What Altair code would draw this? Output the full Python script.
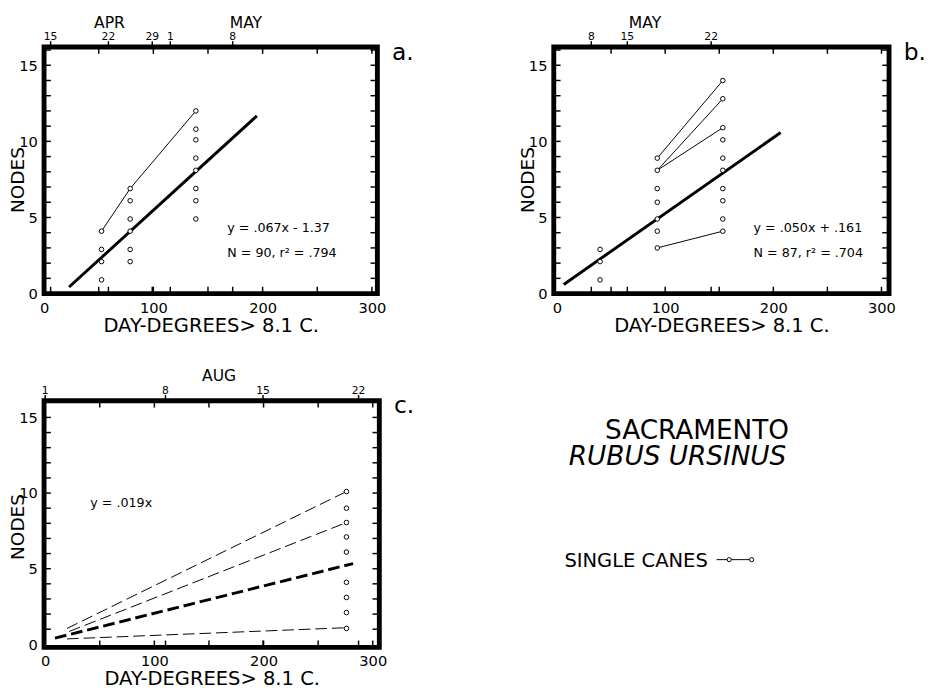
import altair as alt
import pandas as pd

FONT = "DejaVu Sans"

# ---------------- panel a ----------------
a_x = [52.6, 52.6, 52.6, 52.6,
       78.8, 78.8, 78.8, 78.8, 78.8, 78.8,
       138.9, 138.9, 138.9, 138.9, 138.9, 138.9, 138.9, 138.9]
a_y = [4.1, 2.9, 2.1, 0.9,
       6.9, 6.1, 4.9, 4.1, 2.9, 2.1,
       12.0, 10.8, 10.1, 8.9, 8.1, 6.9, 6.1, 4.9]
a_cane_x = [52.6, 78.8, 138.9]
a_cane_y = [4.1, 6.9, 12.0]
a_cane_id = [1, 1, 1]
a_fit_x = [22.9, 194.7]
a_fit_y = [0.43, 11.67]
a_date_pos = [6, 58.9, 99, 115.5, 172.6]
a_date_lab = ["15", "22", "29", "1", "8"]
a_month_pos = [59.8, 184.7]
a_month_lab = ["APR", "MAY"]
a_eq = ["y = .067x - 1.37", "N = 90, r² = .794"]

# ---------------- panel b ----------------
b_x = [39.8, 39.8, 39.8,
       92.7, 92.7, 92.7, 92.7, 92.7, 92.7, 92.7,
       153.3, 153.3, 153.3, 153.3, 153.3, 153.3, 153.3, 153.3, 153.3, 153.3]
b_y = [2.9, 2.1, 0.9,
       8.9, 8.1, 6.9, 6.0, 4.9, 4.1, 3.0,
       14.0, 12.8, 10.9, 10.1, 8.9, 8.1, 6.9, 6.1, 4.9, 4.1]
b_cane_x = [92.7, 153.3, 92.7, 153.3, 92.7, 153.3, 92.7, 153.3]
b_cane_y = [8.9, 14.0, 8.1, 12.8, 8.1, 10.9, 3.0, 4.1]
b_cane_id = [1, 1, 2, 2, 3, 3, 4, 4]
b_fit_x = [6.2, 206.8]
b_fit_y = [0.6, 10.58]
b_date_pos = [31.7, 65, 142.5]
b_date_lab = ["8", "15", "22"]
b_month_pos = [81.3]
b_month_lab = ["MAY"]
b_eq = ["y = .050x + .161", "N = 87, r² = .704"]

# ---------------- panel c ----------------
c_x = [275.9, 275.9, 275.9, 275.9, 275.9, 275.9, 275.9, 275.9, 275.9]
c_y = [10.1, 9.0, 8.05, 7.1, 6.1, 4.1, 3.1, 2.1, 1.05]
c_cane_x = [20.0, 275.9, 22.0, 275.9, 20.0, 275.9]
c_cane_y = [1.05, 10.1, 0.85, 8.05, 0.36, 1.1]
c_cane_id = [1, 1, 2, 2, 3, 3]
c_fit_x = [9.0, 282.0]
c_fit_y = [0.41, 5.34]
c_date_pos = [0, 110.2, 199.5, 287]
c_date_lab = ["1", "8", "15", "22"]
c_month_pos = [159.3]
c_month_lab = ["AUG"]
c_eq = ["y = .019x"]

y_labels = [0, 5, 10, 15]
x_labels = [0, 100, 200, 300]
y_minor = list(range(1, 17))
x_minor = [50, 100, 150, 200, 250, 300]

X_TITLE = "DAY-DEGREES> 8.1 C."
Y_TITLE = "NODES"


def panel(px, py, cx, cy, cid, fx, fy, dpos, dlab, mpos, mlab, eq, letter,
          xdom, ydom, width, height, dashed, eq_pos, ytitle_y, xtitle_y):
    xs = alt.Scale(domain=xdom, nice=False, zero=False)
    ys = alt.Scale(domain=ydom, nice=False, zero=False)

    x_bottom = alt.Axis(orient="bottom", values=x_labels, ticks=False, domain=False,
                        grid=False, labelFontSize=15, labelPadding=7, labelFlush=False,
                        labelColor="black", labelFont=FONT, title=X_TITLE, titleFontSize=20,
                        titleFontWeight="normal", titleColor="black", titleFont=FONT,
                        titleY=xtitle_y, titleBaseline="alphabetic")
    y_left = alt.Axis(orient="left", values=y_labels, ticks=False, domain=False,
                      grid=False, labelFontSize=15, labelPadding=7, labelColor="black",
                      labelFont=FONT, title=Y_TITLE, titleFontSize=19, titleFontWeight="normal",
                      titleColor="black", titleFont=FONT, titleX=-21, titleY=ytitle_y,
                      titleBaseline="alphabetic", titleAlign="center")

    pts = pd.DataFrame({"x": px, "y": py})
    canes = pd.DataFrame({"x": cx, "y": cy, "cane": cid})
    fit = pd.DataFrame({"x": fx, "y": fy})
    months = pd.DataFrame({"x": mpos, "lab": mlab})
    dates = pd.DataFrame({"x": dpos, "lab": dlab})
    ymin = pd.DataFrame({"y": y_minor})
    xmin = pd.DataFrame({"x": x_minor})
    xbot = pd.DataFrame({"x": sorted(set(x_minor + dpos))})

    # every layer carries the same axis definition, so they merge into one
    XA = lambda f: alt.X(f, type="quantitative", scale=xs, axis=x_bottom)
    YA = lambda f: alt.Y(f, type="quantitative", scale=ys, axis=y_left)

    layers = []
    # inward ticks on all four sides
    layers.append(alt.Chart(ymin).mark_rule(color="black", strokeWidth=1.5).encode(
        y=YA("y"), x=alt.value(0), x2=alt.value(7)))
    layers.append(alt.Chart(ymin).mark_rule(color="black", strokeWidth=1.5).encode(
        y=YA("y"), x=alt.value(width), x2=alt.value(width - 7)))
    layers.append(alt.Chart(xmin).mark_rule(color="black", strokeWidth=1.5).encode(
        x=XA("x"), y=alt.value(0), y2=alt.value(7)))
    layers.append(alt.Chart(xbot).mark_rule(color="black", strokeWidth=1.5).encode(
        x=XA("x"), y=alt.value(height), y2=alt.value(height - 7)))
    # outward date ticks and date labels on top
    layers.append(alt.Chart(dates).mark_rule(color="black", strokeWidth=1.5).encode(
        x=XA("x"), y=alt.value(-6), y2=alt.value(0)))
    layers.append(alt.Chart(dates).mark_text(font=FONT, fontSize=11, baseline="alphabetic",
                                             color="black").encode(
        x=XA("x"), y=alt.value(-7), text="lab:N"))
    layers.append(alt.Chart(months).mark_text(font=FONT, fontSize=16, baseline="alphabetic",
                                              color="black").encode(
        x=XA("x"), y=alt.value(-20), text="lab:N"))

    thin_kw = dict(color="black", strokeWidth=1)
    thick_kw = dict(color="black", strokeWidth=3)
    if dashed:
        thin_kw["strokeDash"] = [12, 5]
        thick_kw["strokeDash"] = [12, 5]
    layers.append(alt.Chart(canes).mark_line(**thin_kw).encode(
        x=XA("x"), y=YA("y"), detail="cane:N"))
    layers.append(alt.Chart(fit).mark_line(**thick_kw).encode(x=XA("x"), y=YA("y")))
    layers.append(alt.Chart(pts).mark_point(shape="circle", filled=True, fill="white",
                                            stroke="black", strokeWidth=1, size=22,
                                            opacity=1).encode(
        x=XA("x"), y=YA("y")))
    for i, line in enumerate(eq):
        layers.append(alt.Chart(pd.DataFrame({"t": [line]})).mark_text(
            font=FONT, fontSize=13, align="left", baseline="alphabetic", color="black").encode(
            x=alt.value(eq_pos[0]), y=alt.value(eq_pos[1] + 25.5 * i), text="t:N"))
    layers.append(alt.Chart(pd.DataFrame({"t": [letter]})).mark_text(
        font=FONT, fontSize=24, align="left", baseline="alphabetic", color="black").encode(
        x=alt.value(width + 15), y=alt.value(13), text="t:N"))
    return alt.layer(*layers).properties(width=width, height=height)


pa = panel(a_x, a_y, a_cane_x, a_cane_y, a_cane_id, a_fit_x, a_fit_y, a_date_pos,
           a_date_lab, a_month_pos, a_month_lab, a_eq, "a.", [0, 305], [0, 16.2],
           342, 253, False, (188, 189.5), 136, 39)
pb = panel(b_x, b_y, b_cane_x, b_cane_y, b_cane_id, b_fit_x, b_fit_y, b_date_pos,
           b_date_lab, b_month_pos, b_month_lab, b_eq, "b.", [-3, 307], [0, 16.2],
           344, 253, False, (205, 189.5), 136, 39)
pc = panel(c_x, c_y, c_cane_x, c_cane_y, c_cane_id, c_fit_x, c_fit_y, c_date_pos,
           c_date_lab, c_month_pos, c_month_lab, c_eq, "c.", [-1, 306], [-0.2, 16.1],
           344, 253, True, (47.5, 109), 129, 38)

# ---------------- text panel ----------------
site = ["SACRAMENTO"]
species = ["RUBUS URSINUS"]
legend_label = ["SINGLE CANES"]

t_layers = [
    alt.Chart(pd.DataFrame({"t": site})).mark_text(
        font=FONT, fontSize=27, align="center", baseline="alphabetic", color="black").encode(
        x=alt.value(162), y=alt.value(39), text="t:N"),
    alt.Chart(pd.DataFrame({"t": species})).mark_text(
        font=FONT, fontSize=27, fontStyle="italic", align="center", baseline="alphabetic",
        color="black").encode(x=alt.value(142), y=alt.value(66), text="t:N"),
    alt.Chart(pd.DataFrame({"t": legend_label})).mark_text(
        font=FONT, fontSize=20, align="right", baseline="alphabetic", color="black").encode(
        x=alt.value(173), y=alt.value(171), text="t:N"),
    alt.Chart(pd.DataFrame({"t": legend_label})).mark_rule(color="black", strokeWidth=1).encode(
        x=alt.value(182), x2=alt.value(218), y=alt.value(163)),
    alt.Chart(pd.DataFrame({"t": legend_label})).mark_point(
        shape="circle", filled=True, fill="white", stroke="black", strokeWidth=1, size=18,
        opacity=1).encode(x=alt.value(195), y=alt.value(163)),
    alt.Chart(pd.DataFrame({"t": legend_label})).mark_point(
        shape="circle", filled=True, fill="white", stroke="black", strokeWidth=1, size=18,
        opacity=1).encode(x=alt.value(218), y=alt.value(163)),
]
tp = alt.layer(*t_layers).properties(width=360, height=250,
                                     view=alt.ViewBackground(stroke="transparent"))

top = alt.hconcat(pa, pb, spacing=102)
bottom = alt.hconcat(pc, tp, spacing=122)
chart = alt.vconcat(top, bottom, spacing=28).properties(
    padding={"left": -2, "top": -5, "right": 0, "bottom": 0}
).configure(font=FONT).configure_view(stroke="black", strokeWidth=5)

chart.save("out.html", embed_options={"renderer": "svg", "actions": False})
